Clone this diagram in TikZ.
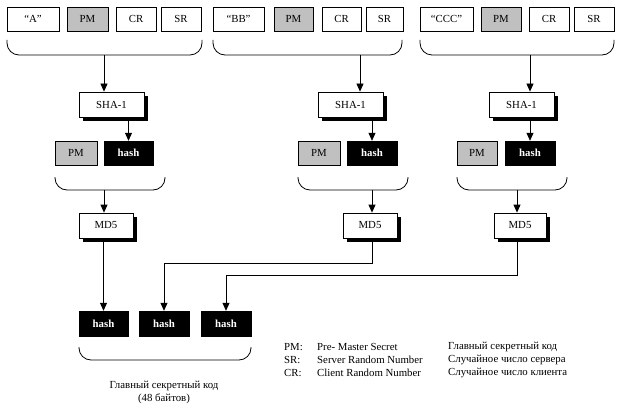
\documentclass[tikz,border=0pt]{standalone}
\usepackage{fontspec}
\setmainfont{Liberation Serif}
\usetikzlibrary{arrows.meta}
\definecolor{pmgray}{HTML}{C0C0C0}
\tikzset{
  box/.style={draw=black, line width=0.8pt, fill=white, minimum height=24pt, inner sep=0pt},
  pmbox/.style={box, fill=pmgray},
  hashbox/.style={draw=black, fill=black, text=white, font=\fontsize{10.8}{12}\selectfont\bfseries, minimum height=24pt, inner sep=0pt},
  shbox/.style={box, minimum height=25pt},
  darkshade/.style={fill=black, draw=none},
  brace/.style={draw=black, line width=0.8pt, rounded corners=12pt},
  arr/.style={draw=black, line width=0.8pt, -{Triangle[width=7pt,length=8pt]}},
  txt/.style={anchor=west, inner sep=0pt}
}
\begin{document}
\begin{tikzpicture}[x=1pt,y=-1pt, font=\fontsize{10.8}{12}\selectfont]
\useasboundingbox (0,0) rectangle (620,409);

% ---------- group 1 ----------
\node[box, minimum width=52pt] (a1) at (33,19) {“A”};
\node[pmbox, minimum width=41pt] (p1) at (87.5,19) {PM};
\node[box, minimum width=40pt] (c1) at (136,19) {CR};
\node[box, minimum width=40pt] (s1) at (181,19) {SR};
\draw[brace] (7,40) -- (7,55) -- (202,55) -- (202,40);
\coordinate (t1) at (104,55);
\node[shbox, minimum width=65pt] (sha1) at (111.5,104.5) {SHA-1};
\node[pmbox, minimum width=42pt] (q1) at (76,153) {PM};
\node[hashbox, minimum width=49pt] (h1) at (128.5,153) {hash};
\draw[brace] (55,177) -- (55,190) -- (165,190) -- (165,177);
\coordinate (u1) at (104,190);
\node[shbox, minimum width=54pt] (md1) at (106,225.5) {MD5};

% ---------- group 2 ----------
\node[box, minimum width=51pt] (a2) at (238.5,19) {“BB”};
\node[pmbox, minimum width=39pt] (p2) at (293.5,19) {PM};
\node[box, minimum width=39pt] (c2) at (341.5,19) {CR};
\node[box, minimum width=37pt] (s2) at (384.5,19) {SR};
\draw[brace] (213,40) -- (213,55) -- (402,55) -- (402,40);
\coordinate (t2) at (360,55);
\node[shbox, minimum width=65pt] (sha2) at (350.5,104.5) {SHA-1};
\node[pmbox, minimum width=42pt] (q2) at (319,153) {PM};
\node[hashbox, minimum width=50pt] (h2) at (372,153) {hash};
\draw[brace] (298,177) -- (298,190) -- (408,190) -- (408,177);
\coordinate (u2) at (372,190);
\node[shbox, minimum width=54pt] (md2) at (370,225.5) {MD5};

% ---------- group 3 ----------
\node[box, minimum width=53pt] (a3) at (446.5,19) {“CCC”};
\node[pmbox, minimum width=40pt] (p3) at (501,19) {PM};
\node[box, minimum width=40pt] (c3) at (549,19) {CR};
\node[box, minimum width=40pt] (s3) at (594,19) {SR};
\draw[brace] (420,40) -- (420,55) -- (614,55) -- (614,40);
\coordinate (t3) at (530,55);
\node[shbox, minimum width=65pt] (sha3) at (521.5,104.5) {SHA-1};
\node[pmbox, minimum width=40pt] (q3) at (477,153) {PM};
\node[hashbox, minimum width=50pt] (h3) at (530,153) {hash};
\draw[brace] (457,177) -- (457,190) -- (567,190) -- (567,177);
\coordinate (u3) at (517,190);
\node[shbox, minimum width=52pt] (md3) at (520,225.5) {MD5};

% ---------- drop shadows: strips along right and bottom edges ----------
\foreach \n in {sha1,sha2,sha3,md1,md2,md3}{
  \fill[darkshade] ([yshift=-4pt]\n.north east) rectangle ([xshift=4pt,yshift=-4pt]\n.south east);
  \fill[darkshade] ([xshift=4pt]\n.south west) rectangle ([xshift=4pt,yshift=-4pt]\n.south east);
}

% ---------- connectors ----------
\draw[arr] (t1) -- (t1 |- sha1.north);
\draw[arr] (t2) -- (t2 |- sha2.north);
\draw[arr] (t3) -- (t3 |- sha3.north);
\draw[arr] ([yshift=-4pt]h1.north |- sha1.south) -- (h1.north);
\draw[arr] ([yshift=-4pt]h2.north |- sha2.south) -- (h2.north);
\draw[arr] ([yshift=-4pt]h3.north |- sha3.south) -- (h3.north);
\draw[arr] (u1) -- (u1 |- md1.north);
\draw[arr] (u2) -- (u2 |- md2.north);
\draw[arr] (u3) -- (u3 |- md3.north);

% ---------- bottom ----------
\node[hashbox, minimum width=49pt, minimum height=25pt] (hb1) at (103.5,323.5) {hash};
\node[hashbox, minimum width=50pt, minimum height=25pt] (hb2) at (164,323.5) {hash};
\node[hashbox, minimum width=50pt, minimum height=25pt] (hb3) at (226,323.5) {hash};
\draw[arr] ([yshift=-4pt]hb1.north |- md1.south) -- (hb1.north);
\coordinate (m2) at (372,242);
\coordinate (m3) at (517,242);
\draw[arr] (m2) -- (372,263) -| (hb2.north);
\draw[arr] (m3) -- (517,275) -| (hb3.north);
\draw[brace] (79,347) -- (79,360) -- (251,360) -- (251,347);
\node[inner sep=0pt] (cap1) at (164,386) {Главный секретный код};
\node[inner sep=0pt] (cap2) at (164,398.5) {(48 байтов)};

% ---------- legend ----------
\node[txt] (l1a) at (284,347) {PM:};
\node[txt] (l2a) at (284,360) {SR:};
\node[txt] (l3a) at (284,373) {CR:};
\node[txt] (l1b) at (317,347) {Pre- Master Secret};
\node[txt] (l2b) at (317,360) {Server Random Number};
\node[txt] (l3b) at (317,373) {Client Random Number};
\node[txt] (l1c) at (448,347) {Главный секретный код};
\node[txt] (l2c) at (448,360) {Случайное число сервера};
\node[txt] (l3c) at (448,373) {Случайное число клиента};
\end{tikzpicture}
\end{document}
